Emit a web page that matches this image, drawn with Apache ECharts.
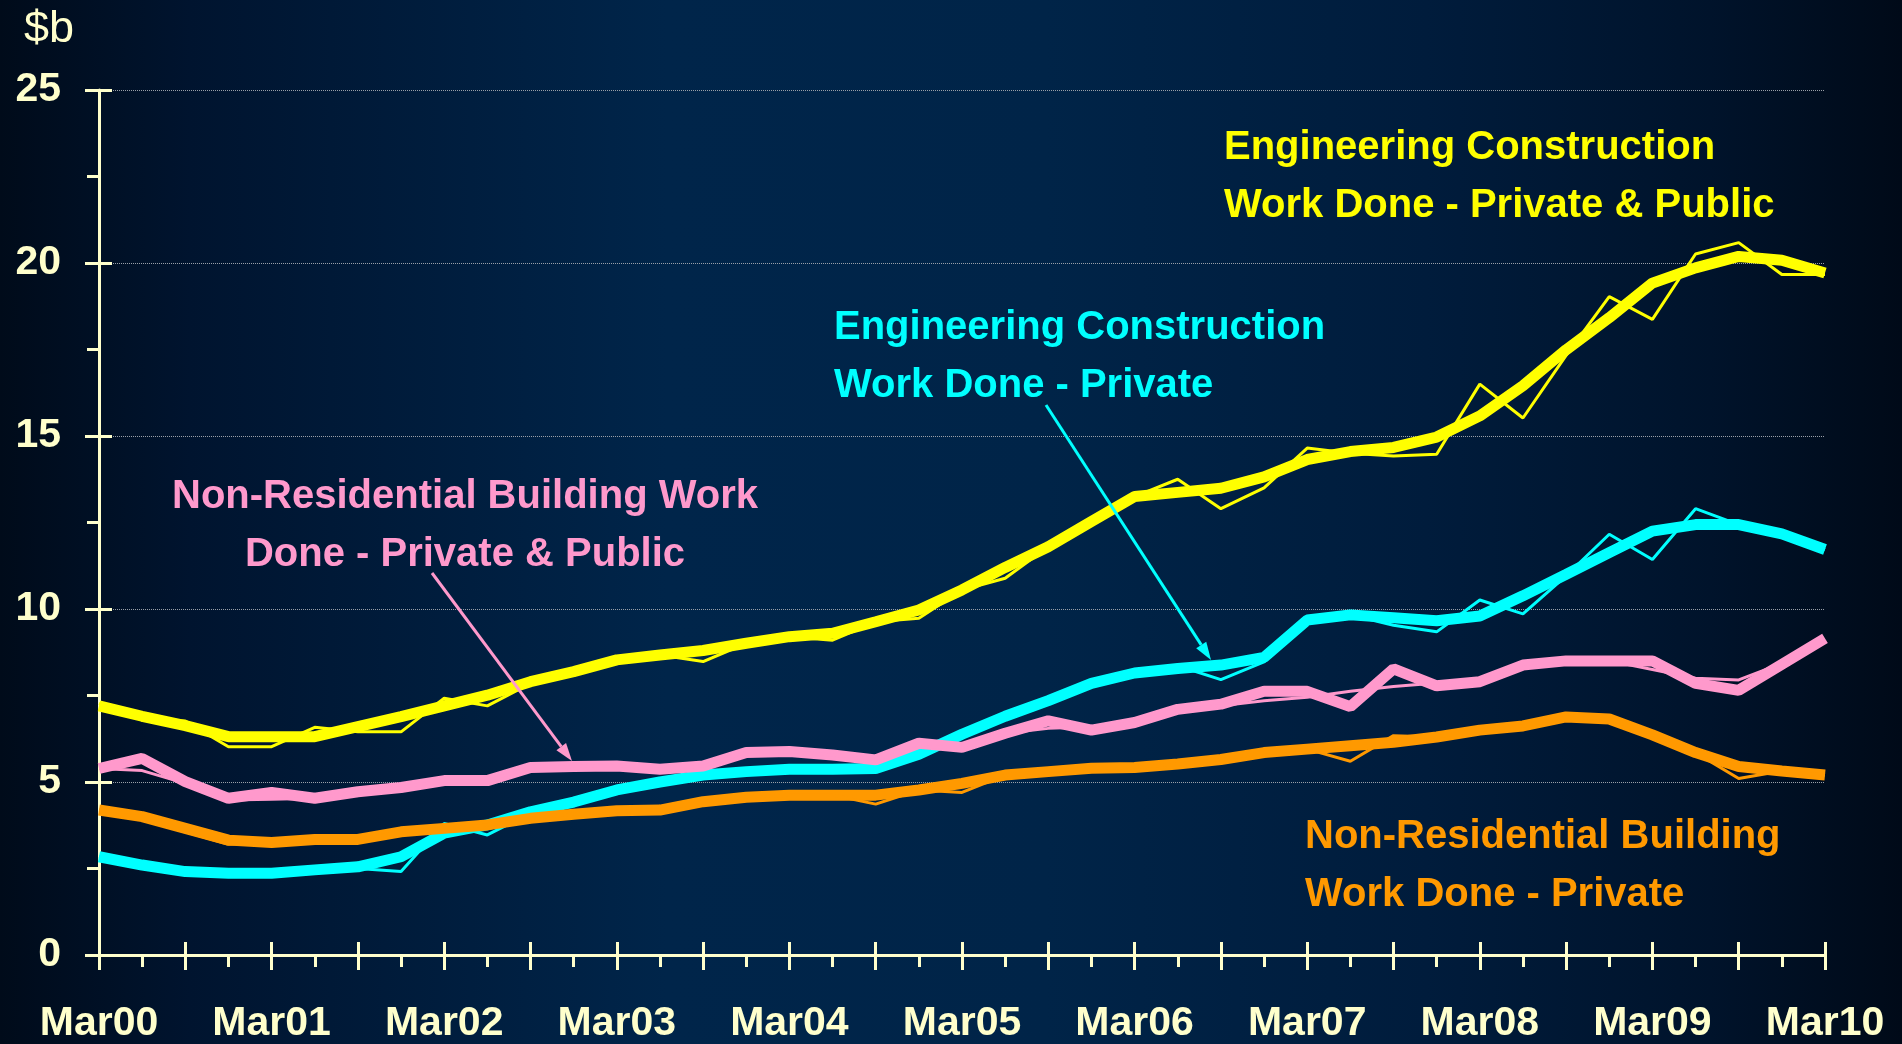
<!DOCTYPE html>
<html>
<head>
<meta charset="utf-8">
<title>Work Done</title>
<script src="https://cdn.jsdelivr.net/npm/echarts@6/dist/echarts.min.js"></script>
<style>
  html, body { margin: 0; padding: 0; background: #001a38; }
  #main { width: 1902px; height: 1044px; }
</style>
</head>
<body>
<div id="main"></div>
<script>
// quarters Mar00 .. Mar10
var quarters = ['Mar00','Jun00','Sep00','Dec00','Mar01','Jun01','Sep01','Dec01',
    'Mar02','Jun02','Sep02','Dec02','Mar03','Jun03','Sep03','Dec03',
    'Mar04','Jun04','Sep04','Dec04','Mar05','Jun05','Sep05','Dec05',
    'Mar06','Jun06','Sep06','Dec06','Mar07','Jun07','Sep07','Dec07',
    'Mar08','Jun08','Sep08','Dec08','Mar09','Jun09','Sep09','Dec09','Mar10'];

// Engineering construction - private & public ($b)
var engTotalTrend = [7.2, 6.9, 6.63, 6.31, 6.31, 6.31, 6.6, 6.89, 7.2, 7.51,
    7.9, 8.19, 8.53, 8.67, 8.8, 9.01, 9.2, 9.3, 9.63, 9.97,
    10.55, 11.2, 11.8, 12.53, 13.25, 13.37, 13.49, 13.82, 14.32, 14.55,
    14.67, 14.97, 15.58, 16.45, 17.49, 18.42, 19.42, 19.86, 20.19, 20.08, 19.71];
var engTotalSA = [7.27, 6.79, 6.76, 6.02, 6.02, 6.58, 6.45, 6.45, 7.42, 7.2,
    7.85, 8.19, 8.53, 8.67, 8.48, 9.01, 9.2, 9.1, 9.63, 9.73,
    10.55, 10.89, 11.8, 12.53, 13.25, 13.75, 12.9, 13.5, 14.65, 14.5,
    14.42, 14.47, 16.5, 15.52, 17.33, 19.03, 18.37, 20.26, 20.59, 19.67, 19.67];

// Engineering construction - private
var engPrivTrend = [2.84, 2.6, 2.41, 2.36, 2.36, 2.46, 2.55, 2.84, 3.52, 3.76,
    4.14, 4.42, 4.77, 5.0, 5.2, 5.3, 5.37, 5.37, 5.39, 5.8,
    6.38, 6.9, 7.35, 7.85, 8.15, 8.28, 8.38, 8.6, 9.68, 9.83,
    9.75, 9.66, 9.8, 10.38, 11.0, 11.63, 12.25, 12.44, 12.44, 12.17, 11.72];
var engPrivSA = [2.84, 2.6, 2.41, 2.36, 2.36, 2.46, 2.5, 2.41, 3.8, 3.47,
    4.1, 4.42, 4.77, 5.0, 5.2, 5.3, 5.37, 5.37, 5.39, 5.8,
    6.45, 6.9, 7.35, 7.85, 8.15, 8.36, 7.96, 8.47, 9.68, 9.83,
    9.53, 9.34, 10.26, 9.86, 10.96, 12.16, 11.43, 12.9, 12.44, 12.17, 11.72];

// Non-residential building - private & public
var nonResTotalTrend = [5.39, 5.68, 5.01, 4.53, 4.7, 4.53, 4.72, 4.84, 5.04, 5.04,
    5.42, 5.45, 5.46, 5.37, 5.46, 5.85, 5.88, 5.78, 5.64, 6.12,
    6.0, 6.41, 6.77, 6.5, 6.72, 7.1, 7.25, 7.62, 7.62, 7.18,
    8.27, 7.78, 7.9, 8.38, 8.5, 8.5, 8.5, 7.85, 7.65, 8.4, 9.15];
var nonResTotalSA = [5.39, 5.33, 4.96, 4.48, 4.5, 4.53, 4.72, 4.84, 5.04, 5.04,
    5.42, 5.45, 5.46, 5.37, 5.46, 5.85, 5.88, 5.78, 5.64, 6.0,
    6.02, 6.41, 6.55, 6.6, 6.72, 7.1, 7.2, 7.35, 7.45, 7.62,
    7.76, 7.86, 7.9, 8.3, 8.5, 8.5, 8.25, 8.0, 7.95, 8.43, 9.04];

// Non-residential building - private
var nonResPrivTrend = [4.19, 4.0, 3.66, 3.32, 3.25, 3.34, 3.34, 3.56, 3.66, 3.76,
    3.95, 4.07, 4.17, 4.19, 4.43, 4.56, 4.62, 4.62, 4.62, 4.77,
    4.96, 5.2, 5.3, 5.4, 5.42, 5.52, 5.65, 5.85, 5.95, 6.05,
    6.15, 6.3, 6.5, 6.62, 6.88, 6.82, 6.36, 5.85, 5.45, 5.32, 5.2];
var nonResPrivSA = [4.19, 4.09, 3.56, 3.2, 3.25, 3.34, 3.34, 3.56, 3.66, 3.76,
    3.95, 4.07, 4.17, 4.19, 4.43, 4.56, 4.62, 4.62, 4.36, 4.77,
    4.7, 5.2, 5.3, 5.4, 5.42, 5.52, 5.65, 5.85, 5.95, 5.6,
    6.34, 6.3, 6.5, 6.62, 6.88, 6.82, 6.36, 5.85, 5.1, 5.32, 5.2];

var cream = '#FFFFCC';
var yellow = '#FFFF00', cyan = '#00FFFF', pink = '#FF99CC', orange = '#FF9900';
var fontFam = '"Liberation Sans", Arial, sans-serif';

var chart = echarts.init(document.getElementById('main'));

function lineSeries(name, data, color, width) {
    return {
        name: name,
        type: 'line',
        data: data,
        showSymbol: false,
        symbol: 'none',
        smooth: false,
        lineStyle: { color: color, width: width, join: 'bevel' },
        emphasis: { disabled: true },
        z: 3
    };
}

// arrow shaft + head, annotation only
function arrow(x1, y1, x2, y2, color) {
    var ang = Math.atan2(y2 - y1, x2 - x1);
    var len = 18, half = 6;
    var bx = x2 - len * Math.cos(ang), by = y2 - len * Math.sin(ang);
    var px = -Math.sin(ang) * half, py = Math.cos(ang) * half;
    return [
        { type: 'line', z: 50, shape: { x1: x1, y1: y1, x2: bx, y2: by },
          style: { stroke: color, lineWidth: 3 } },
        { type: 'polygon', z: 50, shape: { points: [[x2, y2], [bx + px, by + py], [bx - px, by - py]] },
          style: { fill: color } }
    ];
}

function label(text, x, y, color, align) {
    return {
        type: 'text', z: 50, x: x, y: y,
        style: {
            text: text, fill: color,
            font: 'bold 40px ' + fontFam,
            lineHeight: 58,
            align: align, textAlign: align,
            verticalAlign: 'middle', textVerticalAlign: 'middle'
        }
    };
}

var graphics = [
    { type: 'text', z: 50, x: 24, y: 30,
      style: { text: '$b', fill: cream, font: 'normal 45px ' + fontFam,
               align: 'left', textAlign: 'left', verticalAlign: 'middle', textVerticalAlign: 'middle' } },
    label('Engineering Construction\nWork Done - Private & Public', 1224, 177, yellow, 'left'),
    label('Engineering Construction\nWork Done - Private', 834, 357, cyan, 'left'),
    label('Non-Residential Building Work\nDone - Private & Public', 465, 526, pink, 'center'),
    label('Non-Residential Building\nWork Done - Private', 1305, 866, orange, 'left')
].concat(arrow(432, 573, 572, 761, pink)).concat(arrow(1046, 405, 1211, 660, cyan));

var tickStyle = { color: cream, width: 3 };

var option = {
    backgroundColor: new echarts.graphic.LinearGradient(0, 0, 1, 0, [
        { offset: 0, color: '#000b1a' },
        { offset: 0.1, color: '#00142f' },
        { offset: 0.35, color: '#00254a' },
        { offset: 0.55, color: '#002448' },
        { offset: 0.75, color: '#001c3c' },
        { offset: 0.9, color: '#00132b' },
        { offset: 1, color: '#000a18' }
    ]),
    animation: false,
    grid: { left: 99, right: 77, top: 90, bottom: 89, containLabel: false, outerBoundsMode: 'none' },
    xAxis: [{
        type: 'category',
        data: quarters,
        boundaryGap: false,
        position: 'bottom',
        axisLine: { show: true, lineStyle: { color: cream, width: 3 } },
        axisTick: { show: true, interval: 0, length: 12, lineStyle: tickStyle },
        axisLabel: {
            interval: 3, color: cream, margin: 48,
            fontFamily: fontFam, fontWeight: 'bold', fontSize: 41, lineHeight: 41
        },
        splitLine: { show: false }
    }, {
        type: 'category',
        data: quarters,
        boundaryGap: false,
        position: 'bottom',
        axisLine: { show: false },
        axisTick: { show: true, interval: 1, length: 15, lineStyle: tickStyle },
        axisLabel: { show: false },
        splitLine: { show: false }
    }, {
        type: 'category',
        data: quarters,
        boundaryGap: false,
        position: 'bottom',
        axisLine: { show: false },
        axisTick: { show: true, inside: true, interval: 1, length: 13, lineStyle: tickStyle },
        axisLabel: { show: false },
        splitLine: { show: false }
    }],
    yAxis: [{
        type: 'value',
        min: 0, max: 25, interval: 5,
        position: 'left',
        axisLine: { show: true, lineStyle: { color: cream, width: 3 } },
        axisTick: { show: true, length: 14, lineStyle: tickStyle },
        minorTick: { show: true, splitNumber: 2, length: 12, lineStyle: tickStyle },
        axisLabel: {
            color: cream, margin: 38,
            fontFamily: fontFam, fontWeight: 'bold', fontSize: 41
        },
        splitLine: { show: true, lineStyle: { color: '#9aa0a8', width: 1, type: 'dotted' } },
        minorSplitLine: { show: false }
    }, {
        type: 'value',
        min: 0, max: 25, interval: 5,
        position: 'left',
        axisLine: { show: false },
        axisTick: { show: true, inside: true, length: 13, lineStyle: tickStyle },
        axisLabel: { show: false },
        splitLine: { show: false }
    }],
    series: [
        lineSeries('Eng private trend', engPrivTrend, cyan, 11),
        lineSeries('Eng private', engPrivSA, cyan, 3),
        lineSeries('Eng total trend', engTotalTrend, yellow, 11),
        lineSeries('Eng total', engTotalSA, yellow, 3),
        lineSeries('Non-res total trend', nonResTotalTrend, pink, 11),
        lineSeries('Non-res total', nonResTotalSA, pink, 3),
        lineSeries('Non-res private trend', nonResPrivTrend, orange, 11),
        lineSeries('Non-res private', nonResPrivSA, orange, 3)
    ],
    graphic: { elements: graphics }
};

chart.setOption(option);
</script>
</body>
</html>
